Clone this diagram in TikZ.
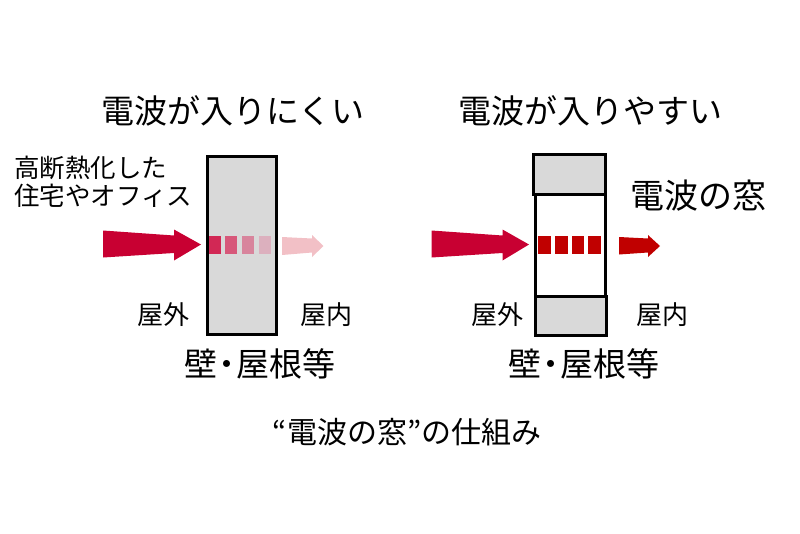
\documentclass[tikz,border=0pt]{standalone}
\usepackage{fontspec}
\setmainfont{Noto Sans CJK JP}
\definecolor{wave}{RGB}{200,0,50}
\definecolor{wavedark}{RGB}{192,0,0}
\definecolor{wavepale}{RGB}{242,192,198}
\definecolor{wallgray}{RGB}{217,217,217}
\definecolor{sqa}{RGB}{210,40,85}
\definecolor{sqb}{RGB}{215,88,122}
\definecolor{sqc}{RGB}{216,132,156}
\definecolor{sqd}{RGB}{220,176,190}
\newcommand{\roofdot}{\hspace{-0.22em}・\hspace{-0.22em}}
\tikzset{
  wall/.style={draw=black, line width=3pt},
  title/.style={inner sep=0pt, font=\fontsize{33}{36}\selectfont},
  side/.style={inner sep=0pt, font=\fontsize{26}{30}\selectfont},
  under/.style={inner sep=0pt, font=\fontsize{33}{36}\selectfont}
}
\begin{document}
\begin{tikzpicture}[x=1pt,y=-1pt]
\useasboundingbox (0,0) rectangle (800,533);

% left: hard to get in
\node[title] (titleL) at (233,111) {電波が入りにくい};
\node[inner sep=0pt, anchor=west, align=left, font=\fontsize{25.5}{28}\selectfont] (house) at (14,182) {高断熱化した\\住宅やオフィス};
\node[wall, fill=wallgray, minimum width=69pt, minimum height=178pt, inner sep=0pt] (wallL) at (241.5,245) {};
\foreach \i/\c in {1/sqa,2/sqb,3/sqc,4/sqd}
  \fill[\c] (208.5+16.9*\i-16.9,236) rectangle ++(12,18);
\fill[wave] (103,230.5) -- (174,235.5) -- (174,229.5) -- (201,244.5) -- (174,260.5) -- (174,253) -- (103,257.5) -- cycle;
\fill[wavepale] (282,237) -- (312,238.5) -- (312,235) -- (323.5,246) -- (312,257) -- (312,252.5) -- (282,255) -- cycle;
\node[side] (outL) at (163,315) {屋外};
\node[side] (inL) at (326,315) {屋内};
\node[under] (roofL) at (260,364) {壁\roofdot 屋根等};

% right: easy to get in
\node[title] (titleR) at (590,111) {電波が入りやすい};
\node[inner sep=0pt, anchor=west, font=\fontsize{34}{38}\selectfont] (window) at (630,196) {電波の窓};
\node[wall, fill=white, minimum width=70pt, minimum height=178pt, inner sep=0pt] (wallR) at (570,245) {};
\draw[wall, fill=wallgray] (wallR.north west) rectangle (605,194);
\draw[wall, fill=wallgray] (535,296) rectangle (wallR.south east);
\foreach \i in {1,...,4}
  \fill[wavedark] (538.3+16.7*\i-16.7,236) rectangle ++(12.5,18);
\fill[wave] (431.5,230.5) -- (502.5,235.5) -- (502.5,229.5) -- (529,244.5) -- (502.5,260.5) -- (502.5,253) -- (431.5,257.5) -- cycle;
\fill[wavedark] (619,237) -- (648,238.5) -- (648,235) -- (660,246) -- (648,257) -- (648,252.5) -- (619,254.5) -- cycle;
\node[side] (outR) at (497,315) {屋外};
\node[side] (inR) at (662,315) {屋内};
\node[under] (roofR) at (584,364) {壁\roofdot 屋根等};

\node[inner sep=0pt, font=\fontsize{30}{34}\selectfont] (caption) at (407,432) {“電波の窓”の仕組み};
\end{tikzpicture}
\end{document}
